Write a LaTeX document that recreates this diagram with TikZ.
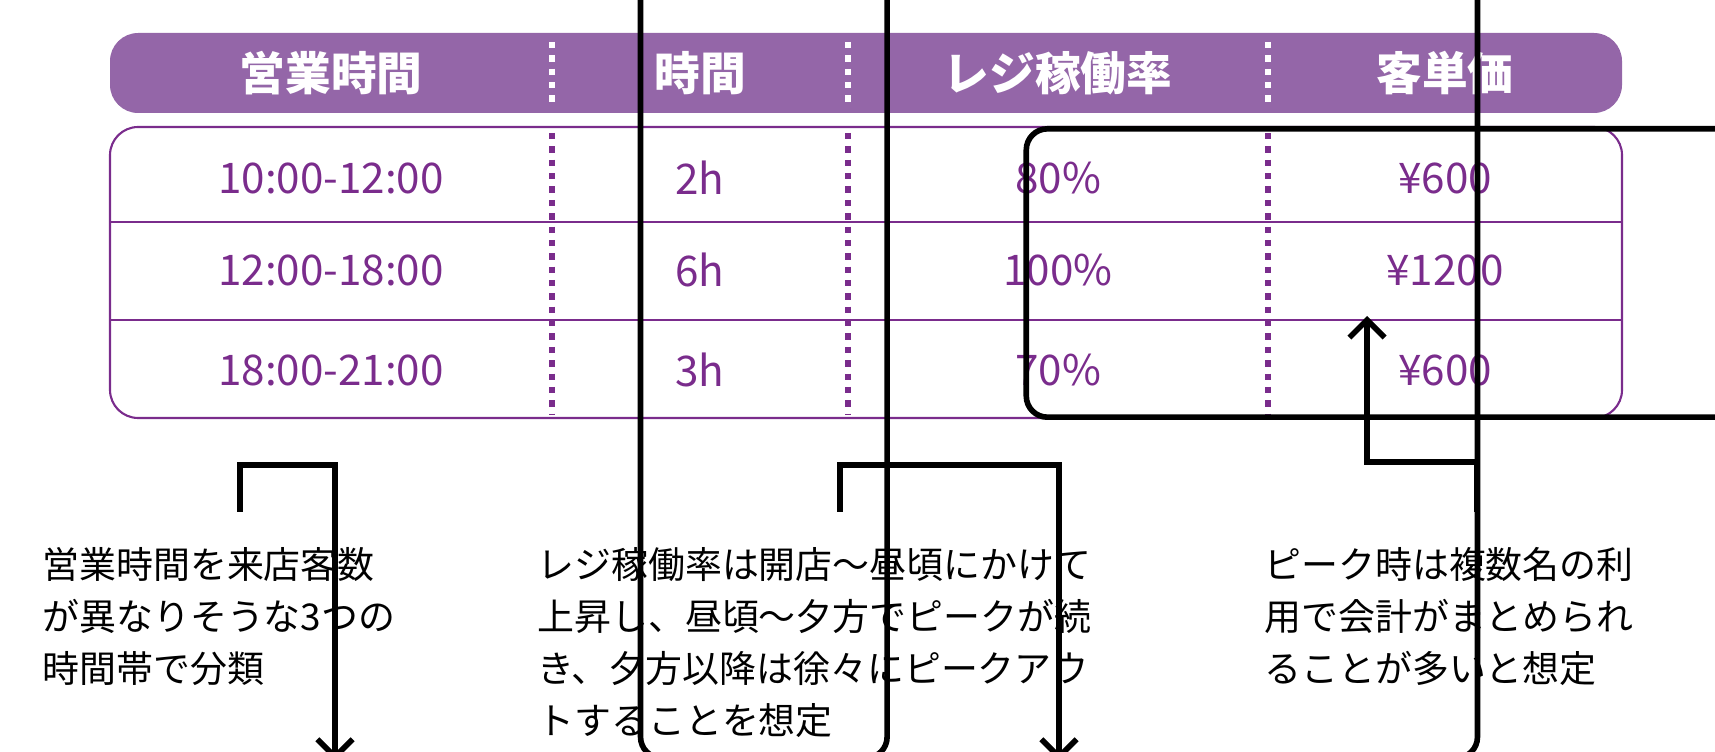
\documentclass[tikz,border=0pt]{standalone}
\usepackage{fontspec}
\usetikzlibrary{arrows.meta}
\setmainfont{Noto Sans CJK JP}
\definecolor{hdr}{HTML}{9466A8}
\definecolor{pur}{HTML}{7A2C8C}
\begin{document}
\begin{tikzpicture}[x=0.01cm,y=-0.01cm,
 hd/.style={text=white,font=\fontsize{13}{15}\selectfont\bfseries},
 dt/.style={text=pur,font=\fontsize{12}{14}\selectfont},
 captext/.style={anchor=north west,align=left,font=\fontsize{10.5}{14.8}\selectfont},
 bx/.style={draw=black,line width=1.6pt,rounded corners=6pt},
 sep/.style={draw=pur,line width=1.8pt,dotted},
 ar/.style={draw=black,line width=1.6pt,-{Straight Barb[length=5pt,width=10pt]}}]
\useasboundingbox (0,0) rectangle (1715,752);
\fill[hdr,rounded corners=8pt] (110,33) rectangle (1622,113);
\draw[pur,line width=0.6pt,rounded corners=8pt] (110,127) rectangle (1622,418);
\draw[pur,line width=0.6pt] (110,222) -- (1622,222) (110,320) -- (1622,320);
\foreach \x in {552,848,1268}{
 \draw[white,line width=1.8pt,dotted] (\x,42) -- (\x,106);
 \draw[sep] (\x,133) -- (\x,414);}
\node[hd] (h1) at (331,73) {営業時間};
\node[hd] (h2) at (700,73) {時間};
\node[hd] (h3) at (1058,73) {レジ稼働率};
\node[hd] (h4) at (1445,73) {客単価};
\foreach \y/\a/\b/\c/\d [count=\i] in {178/10:00-12:00/2h/80\%/¥600,270/12:00-18:00/6h/100\%/¥1200,370/18:00-21:00/3h/70\%/¥600}{
 \node[dt] (a\i) at (331,\y) {\a};
 \node[dt] (b\i) at (700,\y) {\b};
 \node[dt] (c\i) at (1058,\y) {\c};
 \node[dt] (d\i) at (1445,\y) {\d};}
\node[bx,minimum width=314,minimum height=277] (B1) at (335,271) {};
\node[bx,minimum width=238,minimum height=277] (B2) at (1059,271) {};
\node[bx,minimum width=237,minimum height=82] (B3) at (1443,273) {};
\coordinate (s1) at (240,512); \coordinate (s2) at (840,512); \coordinate (s3) at (1477,512);
\coordinate (e3) at (1367,316);
\draw[ar] (s1) |- (335,465) -- (B1.south);
\draw[ar] (s2) |- (1059,465) -- (B2.south);
\draw[ar] (s3) |- (1367,462) -- (e3);
\node[captext] (t1) at (30,535) {営業時間を来店客数\\が異なりそうな3つの\\時間帯で分類};
\node[captext] (t2) at (525,535) {レジ稼働率は開店～昼頃にかけて\\上昇し、昼頃～夕方でピークが続\\き、夕方以降は徐々にピークアウ\\トすることを想定};
\node[captext] (t3) at (1252,535) {ピーク時は複数名の利\\用で会計がまとめられ\\ることが多いと想定};
\end{tikzpicture}
\end{document}
